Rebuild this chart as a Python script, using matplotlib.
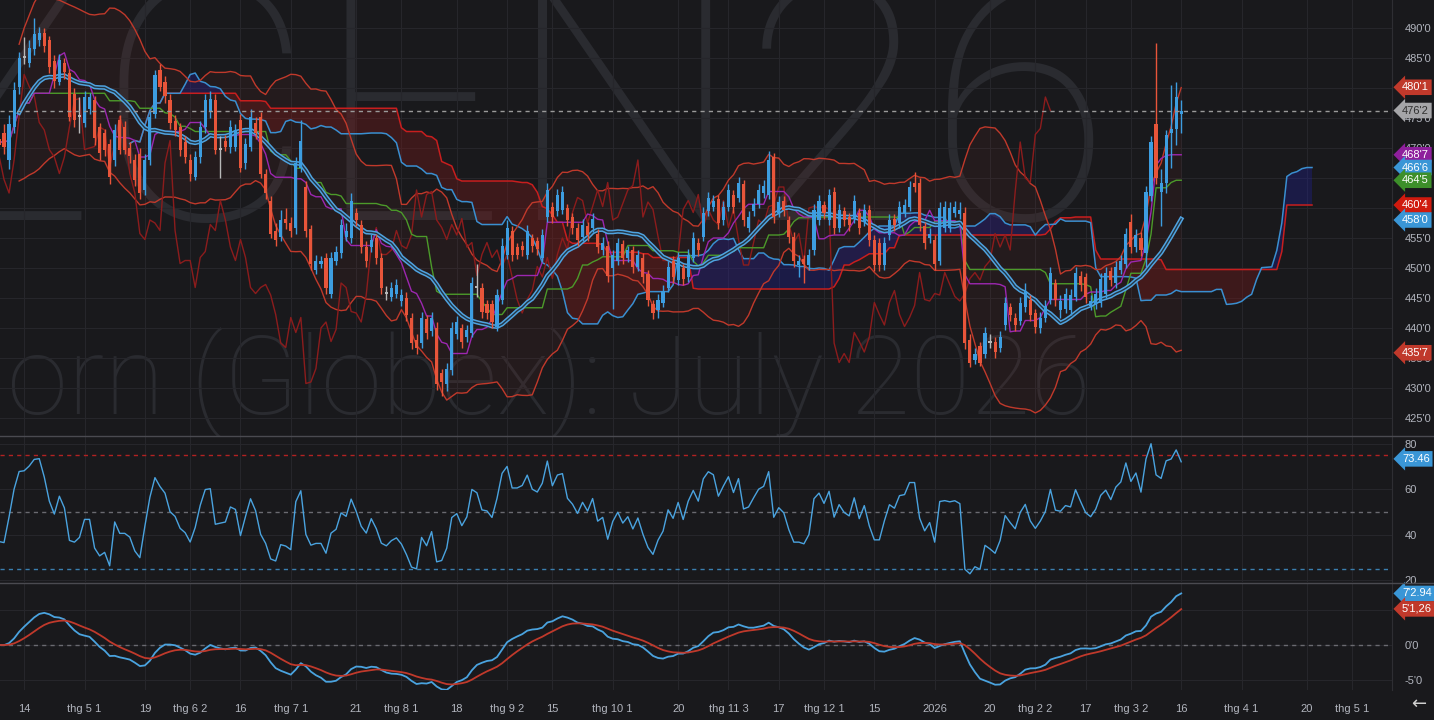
import numpy as np
import pandas as pd
import matplotlib
matplotlib.use("Agg")
import matplotlib.pyplot as plt
import matplotlib.transforms as mtransforms
from matplotlib.lines import Line2D

# ZCEN26 daily candles, 2025-04-07 .. 2026-03-16 (cents/bu)
opens = [471.5, 472.5, 468, 473.5, 480.25, 485, 484.25, 486.5, 488, 489.25,
         488, 484.5, 481, 484.25, 482.5, 479, 475.25, 474.25, 476.5, 478,
         473.5, 472.5, 470.75, 468, 474.75, 473.5, 470, 468, 469, 463,
         468, 475.75, 483, 481, 478, 474.5, 473.5, 471, 468, 465.25,
         468.5, 473.5, 476, 478, 469.75, 471.25, 470.25, 470.25, 474.75, 467.5,
         470.25, 474.25, 475.25, 465.75, 461.25, 456.25, 455.25, 458.25, 457.5, 456.75,
         466.75, 463.5, 456.5, 449.75, 450.75, 451.75, 445.75, 451.25, 452.5, 455.25,
         455, 459.25, 457.25, 453.5, 453.5, 455, 451.75, 446, 445.25, 445.75,
         444.5, 445, 441.75, 438, 437.5, 441.5, 439.5, 440, 432.5, 430.75,
         433, 439, 440, 438.5, 439.25, 447, 446.75, 444, 444, 440.25,
         444.75, 452.25, 456.25, 453.5, 453.75, 452.25, 455, 454.5, 451.75, 458.5,
         460.25, 459.5, 459.75, 460, 458.5, 456.75, 455.25, 457, 456.75, 455.75,
         453, 453.75, 450, 451.25, 454, 451.75, 453, 450.25, 451.75, 449,
         444, 443, 444.25, 446.75, 451.25, 448, 450, 448.5, 451.75, 454.25,
         455.25, 459.5, 460.25, 461.5, 458, 460.25, 462.25, 461.75, 464, 456.75,
         459.5, 460.75, 462.5, 462.25, 468.5, 459.25, 461.25, 458, 455.25, 450.5,
         451.5, 450.5, 453, 458, 460.5, 458, 462.75, 456.75, 459.5, 458.5,
         458.25, 459.25, 457.75, 459.75, 454.75, 454.25, 450.5, 455.5, 458.25, 457.5,
         459.25, 460.25, 464.25, 464.25, 457, 455, 454.75, 451.25, 456.75, 456.75,
         459.25, 459, 459.25, 438, 434.75, 437, 435.75, 437.5, 437.75, 436.75,
         440.5, 443.5, 441.75, 441.25, 443.5, 444.75, 442.5, 440, 441.75, 444.75,
         447.5, 443, 443.25, 443, 445.25, 448.75, 448.5, 443.75, 444, 444.25,
         445.75, 449.5, 447.5, 449.75, 450.75, 457.75, 453.5, 455, 452.5, 462,
         474, 462.75, 464.25, 472.5, 473.25, 475.75]
highs = [473, 474, 475.5, 481, 486, 488.5, 488, 491.75, 490.25, 490,
         488.75, 485.5, 485.75, 485, 483.25, 480, 478.5, 479.5, 479.25, 478.75,
         474.25, 473.25, 471.5, 474, 475.5, 474.5, 471, 469, 470, 469,
         476.25, 483, 484, 482, 479, 475.5, 474.25, 472, 469, 469.5,
         474.5, 479, 479.5, 479, 472, 472.25, 474.75, 474, 475.75, 471.75,
         476.5, 475.25, 476, 466.5, 462, 457.5, 459.75, 460, 458.5, 468.5,
         474.75, 464.5, 457.25, 452.25, 452, 452.5, 452.75, 453.75, 458.25, 457.5,
         462.5, 460, 458, 454.5, 455.75, 455.75, 452.5, 447, 447.75, 448.25,
         446.5, 446, 442.5, 439, 442.75, 442.25, 442.75, 441, 433.25, 434.25,
         441, 442, 440.75, 440.5, 448.5, 450.75, 447.5, 444.75, 444.75, 446.5,
         455, 458, 457, 454.25, 454.5, 457.25, 455.75, 455.25, 456.5, 464.25,
         461, 463.25, 463.75, 460.75, 459.25, 457.5, 458.25, 457.75, 459.25, 456.5,
         455.25, 454.5, 453, 455, 454.75, 453.75, 453.75, 453, 452.5, 449.75,
         444.75, 445.75, 447.25, 451.25, 452, 452.75, 450.75, 453.25, 456, 455,
         460.25, 462.75, 462.25, 462.25, 461.25, 464, 463, 465.25, 464.75, 459.5,
         461.75, 464, 464.75, 469.5, 469.25, 462, 462, 458.75, 456, 452.25,
         452.25, 453.25, 460.75, 462.25, 461.25, 463.25, 463.5, 460.75, 460.25, 459.25,
         462.25, 460, 460.75, 460.5, 455.5, 455, 455.25, 459, 459, 461.25,
         461.5, 464.5, 466, 465, 457.75, 456.75, 455.5, 461, 461.25, 461,
         461.25, 461, 460.25, 439, 436.75, 437.75, 440.25, 439, 438.5, 439.5,
         445.25, 444.25, 442.5, 445.25, 447.5, 445.5, 443.25, 442.75, 444.75, 450.25,
         448.25, 445.5, 446.75, 446.5, 450.25, 449.5, 449.25, 445.5, 446.75, 449.25,
         450.25, 450.25, 451.25, 452.25, 456.75, 459, 456.5, 456, 463.75, 472,
         487.5, 466.5, 473, 480.5, 481, 478]
lows = [468.5, 469, 466.5, 472.5, 479, 484, 483.5, 485.5, 487, 486,
        482.5, 480, 480.5, 481.5, 474.5, 473.5, 472.5, 473.5, 475.75, 470.5,
        468, 468.75, 464, 467, 469, 469, 467.5, 463.75, 461.5, 462.25,
        467.25, 475, 479.5, 477.5, 473.25, 472, 468.75, 467.5, 464.5, 464.75,
        467.5, 472.5, 475, 469, 465, 469.5, 469.25, 469.5, 466, 466.5,
        469.5, 471.5, 465, 461.5, 455, 453.75, 454.5, 456.5, 455.25, 455.75,
        466, 455.25, 449.75, 449, 450, 445.75, 445, 450.5, 451.75, 454.5,
        454.25, 457, 452.5, 450.25, 452.75, 450.75, 445.75, 444.75, 444.5, 445,
        443.75, 441.25, 436.5, 435.75, 436.75, 438.25, 438.75, 429.75, 428.75, 429.5,
        432.25, 438.25, 436.75, 437.75, 438.5, 445.25, 441.75, 441.5, 440, 439.5,
        444, 451.5, 451.25, 451.5, 452, 451.5, 452.75, 452.25, 451, 457.75,
        457.5, 458.75, 459, 457, 455.75, 453.75, 454.5, 454.5, 456, 452.5,
        452.25, 447.75, 443.25, 450.5, 450.75, 451, 449.25, 449.5, 447.5, 443.75,
        441.5, 441.75, 443.5, 446, 447.5, 447.25, 447.25, 447.75, 451, 452,
        454.5, 458.75, 459.5, 456.5, 457.25, 459.5, 459.25, 461, 457, 456,
        458.75, 460, 461.75, 461.5, 457.5, 458.5, 458.75, 454.25, 450.25, 448.5,
        447.5, 449.75, 452.25, 457.25, 458.25, 457.25, 455.75, 456, 457, 456.25,
        457.5, 455.75, 457, 453.75, 449.5, 449.5, 449.75, 454.75, 456.25, 456.75,
        458.5, 459.5, 462.75, 456.25, 453.25, 454.25, 449.75, 450.5, 456, 456,
        458.5, 458.25, 436.5, 433.5, 434, 433.75, 435, 436.75, 435, 436,
        439.75, 441.25, 439.5, 440.5, 442.75, 441.25, 439.25, 439.25, 441, 444,
        443.75, 441.75, 442.5, 442.25, 444.5, 446.25, 444.25, 443, 443.25, 443.5,
        445, 447, 446.75, 449, 450, 452.5, 452.75, 452, 450.25, 461.25,
        464, 457, 462.5, 466.75, 470.5, 472.5]
closes = [470.5, 470.25, 474, 479.75, 485, 485.25, 486.75, 489, 489.25, 487,
          483.5, 481.25, 484.75, 482.75, 475.25, 474.75, 475.5, 478.5, 478.5, 471.75,
          469.25, 469.75, 465.25, 473, 469.75, 469.75, 468.75, 464.75, 462.5, 468,
          475.25, 482.25, 480.25, 478.75, 474.25, 473, 469.75, 468.5, 465.75, 468.5,
          473.5, 478, 478.25, 469.75, 470, 470.25, 473.5, 473, 466.75, 470.75,
          475.25, 472.5, 465.75, 462.5, 455.75, 454.75, 458, 457.5, 456.25, 467.5,
          471.25, 456.25, 450.75, 451.25, 451.25, 446.75, 451.75, 452.75, 457.25, 456.25,
          461.25, 458, 453.5, 451.25, 454.75, 451.75, 446.75, 445.75, 446.75, 447.25,
          445.5, 442.25, 437.5, 436.75, 441.75, 439.25, 441.75, 430.75, 431, 433.25,
          440, 441, 437.75, 439.75, 447.5, 446.75, 442.75, 442.5, 441, 445.5,
          453.75, 456.75, 452.25, 452.25, 453, 456.25, 453.75, 453.25, 455.5, 463,
          458.5, 462.25, 462.75, 458, 456.75, 454.75, 457.25, 455.5, 458.25, 453.5,
          454.25, 448.75, 452.25, 454.25, 451.75, 453, 450.25, 452.25, 448.5, 444.75,
          442.5, 444.75, 446.25, 450.25, 448.5, 451.75, 448.25, 452.25, 455, 453,
          459.25, 461.75, 461.25, 457.5, 460.25, 463, 460.25, 464.25, 458, 458.5,
          460.75, 463, 463.75, 468, 458.5, 461, 459.75, 455.25, 451.25, 451.25,
          450.75, 452.25, 459.75, 461.25, 459.25, 462.25, 456.75, 459.75, 458, 457.25,
          461.25, 456.75, 459.75, 454.75, 450.5, 450.5, 454.25, 458, 457.25, 460.25,
          460.5, 463.5, 463.5, 457.25, 454.25, 455.75, 450.75, 460, 460.25, 460,
          460.25, 459.75, 437.5, 434.25, 435.75, 434.25, 439.25, 437.75, 436, 438.5,
          444.25, 442.25, 440.5, 444.25, 446.25, 442.25, 440.25, 441.75, 443.75, 449.25,
          444.75, 444.5, 445.75, 445.5, 449.25, 447.25, 445.25, 444.5, 445.75, 448.25,
          449.25, 448, 450.25, 451.25, 455.75, 453.5, 455.5, 453, 462.75, 471,
          465, 464.25, 472.25, 473.25, 478.5, 476.25]

last_day = "2026-03-16"
holidays = ["2025-04-18", "2025-05-26", "2025-06-19", "2025-07-04", "2025-09-01",
            "2025-11-27", "2025-12-25", "2026-01-01", "2026-01-19", "2026-02-16"]
tick_dates = ["2025-04-14", "2025-05-01", "2025-05-19", "2025-06-02", "2025-06-16",
              "2025-07-01", "2025-07-21", "2025-08-01", "2025-08-18", "2025-09-02",
              "2025-09-15", "2025-10-01", "2025-10-20", "2025-11-03", "2025-11-17",
              "2025-12-01", "2025-12-15", "2026-01-02", "2026-01-20", "2026-02-02",
              "2026-02-17", "2026-03-02", "2026-03-16", "2026-04-01", "2026-04-20",
              "2026-05-01"]
tick_labels = ["14", "thg 5 1", "19", "thg 6 2", "16", "thg 7 1", "21", "thg 8 1", "18",
               "thg 9 2", "15", "thg 10 1", "20", "thg 11 3", "17", "thg 12 1", "15",
               "2026", "20", "thg 2 2", "17", "thg 3 2", "16", "thg 4 1", "20", "thg 5 1"]

# right-hand value tags as shown on the chart
price_tag_text = ["480'1", "476'2", "468'7", "466'6", "464'5", "460'4", "458'0", "435'7"]
price_tag_vals = [480.125, 476.25, 468.875, 466.75, 464.625, 460.5, 458.0, 435.875]
price_tag_cols = ["#c0392b", "#a5a5a8", "#8e1f9c", "#3a96d6", "#3d8f2a", "#d01a0e", "#3a96d6", "#c0392b"]
rsi_tag_text, rsi_tag_val = "73.46", 73.46
macd_tag_text = ["7'2.94", "5'1,26"]
macd_tag_vals = [7.37, 5.16]
# RSI settings; averages carried in from before the first visible bar (estimated)
rsi_len = 9
rsi_seed_gain, rsi_seed_loss = 1.0, 1.7

BG = "#19191c"
GRID = "#26262b"
TXT = "#b2b5be"
UP = "#3d9de0"
DOWN = "#e8553a"
DOJI = "#b8b8b8"

plt.rcParams["font.family"] = ["Liberation Sans", "DejaVu Sans"]

df = pd.DataFrame({"o": opens, "h": highs, "l": lows, "c": closes})
n = len(df)
x = np.arange(n)

trade_days = pd.bdate_range("2025-03-01", last_day, freq="C", holidays=holidays)[-n:]
future = pd.bdate_range(pd.Timestamp(last_day) + pd.Timedelta(days=1), periods=60)
all_days = trade_days.append(future)
tick_pos, tick_txt = [], []
for d, lab in zip(tick_dates, tick_labels):
    k = all_days.get_indexer([pd.Timestamp(d)])[0]
    if k >= 0:
        tick_pos.append(k)
        tick_txt.append(lab)

c = df["c"]
basis = c.rolling(20, min_periods=5).mean()
dev = c.rolling(20, min_periods=5).std(ddof=0)
bb_up = basis + 2 * dev
bb_lo = basis - 2 * dev

tenkan = (df["h"].rolling(9, min_periods=1).max() + df["l"].rolling(9, min_periods=1).min()) / 2
kijun = (df["h"].rolling(26, min_periods=1).max() + df["l"].rolling(26, min_periods=1).min()) / 2
span_a = ((tenkan + kijun) / 2).values
span_b = ((df["h"].rolling(52, min_periods=1).max() + df["l"].rolling(52, min_periods=1).min()) / 2).values
xs = x + 26

# Wilder RSI
ag, al = rsi_seed_gain, rsi_seed_loss
rsi = []
prev = closes[0]
for v in closes:
    d = v - prev
    prev = v
    ag = (ag * (rsi_len - 1) + max(d, 0)) / rsi_len
    al = (al * (rsi_len - 1) + max(-d, 0)) / rsi_len
    rsi.append(100 - 100 / (1 + ag / al))

macd = c.ewm(span=12, adjust=False).mean() - c.ewm(span=26, adjust=False).mean()
signal = macd.ewm(span=9, adjust=False).mean()

W, H = 1434, 720
fig = plt.figure(figsize=(W / 100, H / 100), dpi=100, facecolor=BG)
right = 1392 / W
ax = fig.add_axes([0, 1 - 436 / H, right, 436 / H])
ax_r = fig.add_axes([0, 1 - 582 / H, right, 145 / H], sharex=ax)
ax_m = fig.add_axes([0, 1 - 690 / H, right, 107 / H], sharex=ax)

for a in (ax, ax_r, ax_m):
    a.set_facecolor(BG)
    for s in a.spines.values():
        s.set_visible(False)
    a.spines["right"].set_visible(True)
    a.spines["right"].set_color("#2e2e33")
    a.yaxis.tick_right()
    a.tick_params(axis="y", length=0, pad=9, labelsize=8, labelcolor=TXT)
    a.tick_params(axis="x", length=0)
    a.set_xticks(tick_pos)
    a.grid(True, color=GRID, lw=0.8, zorder=0)
    a.set_axisbelow(True)
ax.tick_params(axis="x", labelbottom=False)
ax_r.tick_params(axis="x", labelbottom=False)
ax_m.set_xticklabels(tick_txt)
ax_m.tick_params(axis="x", pad=10, labelsize=8, labelcolor=TXT)
ax.set_xlim(0.2, 276.9)

# watermark
ax.text(1112 / 1392, 1 - 220 / 436, "ZCEN26", transform=ax.transAxes, ha="right", va="baseline",
        fontsize=242, family="Roboto", fontweight="light", color="#2a2b30", zorder=0.1)
ax.text(1090 / 1392, 1 - 415 / 436, "Corn (Globex): July 2026", transform=ax.transAxes, ha="right",
        va="baseline", fontsize=79, family="Roboto", fontweight="light", color="#2a2b30", zorder=0.1)

# price panel
ax.fill_between(x, bb_lo, bb_up, color="#c0392b", alpha=0.07, lw=0, zorder=1)
ax.fill_between(xs, span_a, span_b, where=span_a >= span_b, interpolate=True,
                color="#2020a0", alpha=0.32, lw=0, zorder=1)
ax.fill_between(xs, span_a, span_b, where=span_a < span_b, interpolate=True,
                color="#7a1a1a", alpha=0.38, lw=0, zorder=1)
ax.plot(xs, span_b, color="#c81e1e", lw=1.1, zorder=2)
ax.plot(xs, span_a, color="#3a8fd0", lw=1.1, zorder=2)
ax.plot(x, bb_up, color="#c0392b", lw=1, zorder=2)
ax.plot(x, bb_lo, color="#c0392b", lw=1, zorder=2)
ax.plot(x - 26, c, color="#8c1c1c", lw=1, zorder=2)
ax.plot(x, kijun, color="#4c9a2a", lw=1, zorder=2)
ax.plot(x, tenkan, color="#9c27b0", lw=1, zorder=2)
ax.plot(x, basis, color="#4fa3e0", lw=3.2, zorder=2.5)
ax.plot(x, basis, color=BG, lw=1.0, alpha=0.8, zorder=2.6)

o = df["o"].values
cc = c.values
cols = np.where(np.abs(cc - o) < 0.3, DOJI, np.where(cc > o, UP, DOWN))
ax.vlines(x, df["l"], df["h"], colors=cols, lw=1, zorder=3)
ax.bar(x, np.maximum(np.abs(cc - o), 0.3), bottom=np.minimum(o, cc), width=0.62,
       color=cols, lw=0, zorder=4)

ax.axhline(closes[-1], color="#9a9a9a", lw=1, ls=(0, (3, 3)), zorder=5)
ax.set_ylim(422.0, 494.67)
pt = np.arange(425, 495, 5)
ax.set_yticks(pt)
ax.set_yticklabels([f"{int(v)}'0" for v in pt])

# RSI panel
ax_r.plot(x, rsi, color="#4aa3df", lw=1, zorder=3)
ax_r.axhline(75, color="#b22222", lw=1, ls=(0, (3, 3)))
ax_r.axhline(50, color="#6a6a70", lw=1, ls=(0, (3, 3)))
ax_r.axhline(25, color="#3a7fb0", lw=1, ls=(0, (3, 3)))
ax_r.set_ylim(19.2, 83.1)
ax_r.set_yticks([20, 40, 60, 80])

# MACD panel
ax_m.axhline(0, color="#6a6a70", lw=1, ls=(0, (3, 3)))
ax_m.plot(x, macd, color="#4aa3df", lw=1.3, zorder=3)
ax_m.plot(x, signal, color="#c0392b", lw=1.3, zorder=3)
ax_m.set_ylim(-6.43, 8.86)
ax_m.set_yticks([-5, 0, 5])
ax_m.set_yticklabels(["-5'0", "0'0", "5'0"])


def tag(a, y, text, fc, tc="white"):
    tr = mtransforms.blended_transform_factory(a.transAxes, a.transData)
    a.text(1 + 10 / 1392, y, text, transform=tr, ha="left", va="center", fontsize=8, color=tc,
           bbox=dict(boxstyle="larrow,pad=0.25", fc=fc, ec="none"), zorder=20, clip_on=False)


for t, v, col in zip(price_tag_text, price_tag_vals, price_tag_cols):
    tag(ax, v, t, col, "#303030" if t == "476'2" else "white")
tag(ax_r, rsi_tag_val, rsi_tag_text, "#3a96d6")
tag(ax_m, macd_tag_vals[0], macd_tag_text[0], "#3a96d6")
tag(ax_m, macd_tag_vals[1], macd_tag_text[1], "#c0392b")

for yy in (436.5, 582.5):
    fig.add_artist(Line2D([0, 1], [1 - yy / H, 1 - yy / H], color="#4a4a50", lw=1))
fig.text(1419 / W, 1 - 704 / H, "\u2190", color="#d0d0d0", fontsize=13, ha="center", va="center",
         family="DejaVu Sans")

fig.savefig("out.png", dpi=100, facecolor=BG)
